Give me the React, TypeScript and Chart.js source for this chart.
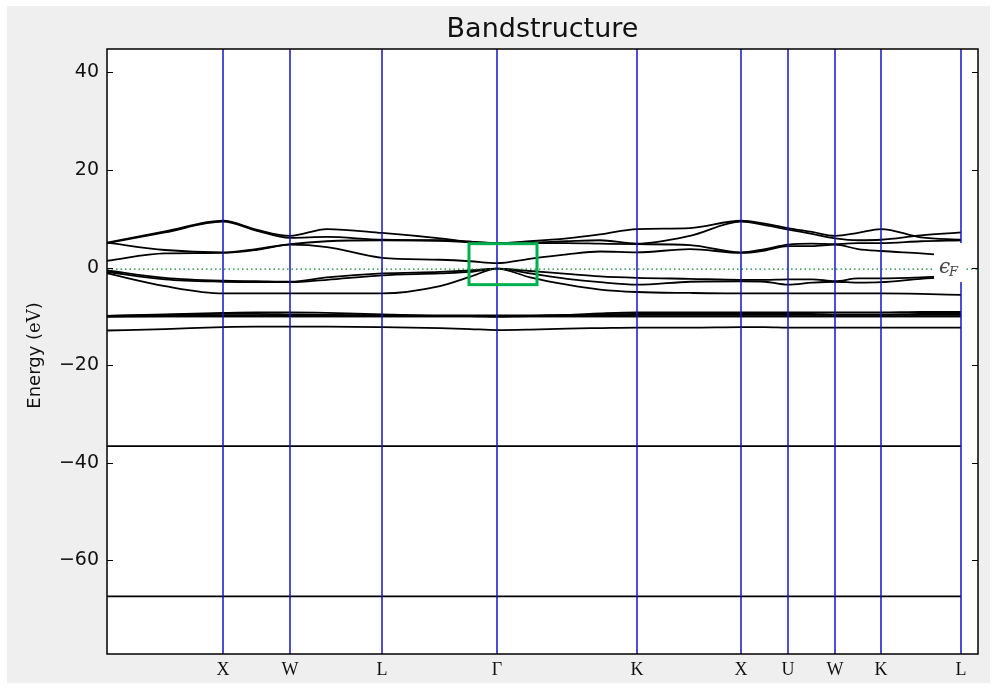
import React, { useEffect, useRef } from "react";
import { Chart, registerables } from "chart.js";

Chart.register(...registerables);

// k-path sample positions (path distance, arbitrary units)
const K_POS = [0, 0.58, 1.16, 1.49, 1.83, 2.2, 2.75, 3.33, 3.63, 3.9, 4.23, 4.6, 4.93, 5.3, 5.83, 6.34, 6.58, 6.81, 7.05, 7.28, 7.51, 7.74, 8.14, 8.54];
const X_MAX = 8.71;
const Y_MIN = -79.2;
const Y_MAX = 44.8;
const E_FERMI = -0.3;

// high-symmetry points
const TICK_POS = [1.16, 1.83, 2.75, 3.9, 5.3, 6.34, 6.81, 7.28, 7.74, 8.54];
const TICK_LABELS = ["X", "W", "L", "\u0393", "K", "X", "U", "W", "K", "L"];
const Y_TICKS = [-60, -40, -20, 0, 20, 40];

// conduction bands (eV)
const C4 = [5.1, 7.4, 9.6, 7.8, 6.5, 7.9, 7.1, 6.0, 5.3, 5.0, 5.4, 6.0, 6.8, 7.9, 8.1, 9.6, 9.0, 8.1, 7.3, 6.5, 7.1, 7.9, 6.2, 5.7];
const C3 = [5.0, 7.2, 9.4, 7.6, 6.1, 6.3, 5.7, 5.6, 5.3, 5.0, 5.1, 5.4, 5.6, 4.9, 6.5, 9.4, 8.7, 7.8, 6.9, 6.0, 5.6, 5.7, 6.6, 7.2];
const C2 = [5.1, 3.6, 3.1, 3.8, 4.8, 5.4, 5.6, 5.5, 5.2, 5.0, 5.0, 5.0, 4.9, 4.8, 4.6, 3.1, 3.8, 4.7, 4.9, 4.8, 5.0, 5.0, 5.4, 5.6];
const C1 = [1.4, 2.9, 3.0, 3.6, 4.7, 4.2, 2.0, 1.6, 1.3, 0.9, 1.8, 2.7, 3.3, 3.1, 3.8, 3.0, 3.5, 4.4, 4.4, 4.7, 3.8, 3.4, 2.9, 2.3];
// valence bands (eV)
const V3 = [-0.6, -2.1, -2.7, -2.8, -2.9, -2.0, -1.2, -0.9, -0.6, -0.2, -0.7, -1.3, -1.8, -2.1, -2.3, -2.5, -2.5, -2.4, -2.4, -2.8, -2.2, -2.2, -2.0, -1.6];
const V2 = [-0.9, -2.4, -2.9, -3.0, -3.0, -2.5, -1.6, -1.2, -0.9, -0.2, -1.2, -2.3, -3.0, -3.5, -2.9, -2.8, -2.9, -3.5, -3.1, -2.9, -3.1, -3.0, -2.3, -1.8];
const V1 = [-1.2, -3.8, -5.3, -5.3, -5.3, -5.3, -5.3, -3.8, -1.9, -0.2, -2.0, -3.5, -4.5, -5.0, -5.2, -5.3, -5.3, -5.3, -5.3, -5.3, -5.3, -5.3, -5.4, -5.6];
// d bands (eV)
const D1 = [-10.0, -10.0, -10.0, -10.0, -10.0, -10.0, -10.0, -10.0, -10.0, -10.0, -10.0, -10.0, -10.0, -10.0, -10.0, -10.0, -10.0, -10.0, -10.0, -10.0, -10.0, -10.0, -10.0, -10.0];
const D2 = [-9.9, -9.9, -9.8, -9.8, -9.8, -9.8, -9.9, -9.9, -9.9, -9.9, -9.9, -9.8, -9.8, -9.7, -9.7, -9.7, -9.7, -9.7, -9.7, -9.7, -9.7, -9.7, -9.7, -9.7];
const D3 = [-9.9, -9.6, -9.3, -9.2, -9.2, -9.3, -9.6, -9.8, -9.8, -9.8, -9.8, -9.7, -9.4, -9.2, -9.2, -9.2, -9.2, -9.2, -9.2, -9.2, -9.2, -9.2, -9.1, -9.1];
const D4 = [-10.1, -10.0, -10.0, -10.0, -10.0, -10.0, -10.0, -10.0, -10.0, -10.1, -10.0, -10.0, -10.0, -10.0, -10.0, -10.0, -10.0, -10.0, -10.0, -10.0, -10.0, -10.0, -10.0, -10.0];
const D5 = [-9.9, -9.7, -9.5, -9.5, -9.6, -9.7, -9.8, -9.9, -9.9, -9.9, -9.9, -9.8, -9.6, -9.5, -9.5, -9.5, -9.5, -9.5, -9.5, -9.6, -9.6, -9.6, -9.5, -9.5];
// s band (eV)
const S1 = [-12.9, -12.6, -12.2, -12.1, -12.1, -12.1, -12.2, -12.4, -12.6, -12.8, -12.7, -12.5, -12.4, -12.3, -12.3, -12.2, -12.2, -12.3, -12.3, -12.3, -12.3, -12.3, -12.3, -12.3];
// deep core levels (eV) at path start and end
const CORE_K = [0, 8.54];
const CORE1 = [-36.6, -36.6];
const CORE2 = [-67.4, -67.4];

// highlighted box (annotation) in data coordinates
const BOX_X = [3.62, 4.3];
const BOX_Y = [-3.5, 4.9];

const TITLE = "Bandstructure";

const BANDS = [C4, C3, C2, C1, V3, V2, V1, D1, D2, D3, D4, D5, S1];

const decorPlugin = {
  id: "decor",
  beforeDraw(chart: any) {
    const { ctx, chartArea: a } = chart;
    ctx.save();
    ctx.fillStyle = "#ffffff";
    ctx.fillRect(a.left, a.top, a.right - a.left, a.bottom - a.top);
    ctx.restore();
  },
  afterDatasetsDraw(chart: any) {
    const { ctx, chartArea: a, scales } = chart;
    const xs = scales.x;
    const ys = scales.y;
    ctx.save();
    // E_F label with white box
    const xL = xs.getPixelForValue(8.54);
    const yF = ys.getPixelForValue(E_FERMI);
    ctx.fillStyle = "#ffffff";
    ctx.fillRect(xL - 27, yF - 26, 32, 39);
    ctx.fillStyle = "#444444";
    ctx.textBaseline = "alphabetic";
    ctx.textAlign = "left";
    ctx.font = "italic 20px 'DejaVu Serif'";
    ctx.fillText("\u03f5", xL - 22, yF + 4);
    ctx.font = "italic 13px 'DejaVu Serif'";
    ctx.fillText("F", xL - 12, yF + 7);

    // green highlight box
    const bx0 = xs.getPixelForValue(BOX_X[0]);
    const bx1 = xs.getPixelForValue(BOX_X[1]);
    const by0 = ys.getPixelForValue(BOX_Y[1]);
    const by1 = ys.getPixelForValue(BOX_Y[0]);
    ctx.strokeStyle = "#00b050";
    ctx.lineWidth = 3;
    ctx.strokeRect(bx0, by0, bx1 - bx0, by1 - by0);

    // frame
    ctx.strokeStyle = "#000000";
    ctx.lineWidth = 1.5;
    ctx.strokeRect(a.left, a.top, a.right - a.left, a.bottom - a.top);
    // inward y ticks
    ctx.lineWidth = 1;
    Y_TICKS.forEach((t) => {
      const py = Math.round(ys.getPixelForValue(t)) + 0.5;
      ctx.beginPath();
      ctx.moveTo(a.left, py);
      ctx.lineTo(a.left + 6, py);
      ctx.moveTo(a.right, py);
      ctx.lineTo(a.right - 6, py);
      ctx.stroke();
    });
    ctx.restore();
  },
  afterDraw(chart: any) {
    const { ctx, chartArea: a } = chart;
    ctx.save();
    // title centred over the plot area
    ctx.fillStyle = "#111111";
    ctx.font = "27px 'DejaVu Sans'";
    ctx.textAlign = "center";
    ctx.textBaseline = "middle";
    ctx.fillText(TITLE, (a.left + a.right) / 2, 24);

    // y-axis label with mixed fonts
    const cy = (a.top + a.bottom) / 2 + 4;
    ctx.translate(28, cy);
    ctx.rotate(-Math.PI / 2);
    ctx.textBaseline = "middle";
    const parts = [
      { t: "Energy (", f: "18px 'DejaVu Sans'" },
      { t: "eV", f: "18px 'DejaVu Serif'" },
      { t: ")", f: "18px 'DejaVu Sans'" },
    ];
    let total = 0;
    parts.forEach((p) => {
      ctx.font = p.f;
      total += ctx.measureText(p.t).width;
    });
    let x = -total / 2;
    ctx.textAlign = "left";
    parts.forEach((p) => {
      ctx.font = p.f;
      ctx.fillText(p.t, x, 0);
      x += ctx.measureText(p.t).width;
    });
    ctx.restore();
  },
};

function BandChart() {
  const ref = useRef<HTMLCanvasElement | null>(null);
  useEffect(() => {
    if (!ref.current) return;
    const datasets: any[] = [];
    TICK_POS.forEach((p) => {
      datasets.push({
        data: [
          { x: p, y: Y_MIN },
          { x: p, y: Y_MAX },
        ],
        borderColor: "rgb(20,20,195)",
        borderWidth: 1.5,
        order: 0,
      });
    });
    datasets.push({
      data: [
        { x: 0, y: E_FERMI },
        { x: X_MAX, y: E_FERMI },
      ],
      borderColor: "#008a30",
      borderWidth: 1.2,
      borderDash: [1.5, 3],
      order: 1,
    });
    BANDS.forEach((b) => {
      datasets.push({
        data: K_POS.map((k, i) => ({ x: k, y: b[i] })),
        borderColor: "#000000",
        borderWidth: 1.8,
        cubicInterpolationMode: "monotone",
        order: 2,
      });
    });
    [CORE1, CORE2].forEach((b) => {
      datasets.push({
        data: CORE_K.map((k, i) => ({ x: k, y: b[i] })),
        borderColor: "#000000",
        borderWidth: 1.8,
        order: 2,
      });
    });

    const chart = new Chart(ref.current, {
      type: "scatter",
      data: { datasets },
      options: {
        animation: false,
        responsive: false,
        devicePixelRatio: 1,
        showLine: true,
        elements: { point: { radius: 0, hoverRadius: 0 } },
        layout: { padding: { left: 0, right: 12, top: 43, bottom: 0 } },
        plugins: {
          legend: { display: false },
          tooltip: { enabled: false },
          title: { display: false },
        },
        scales: {
          x: {
            type: "linear",
            min: 0,
            max: X_MAX,
            grid: { display: false, drawTicks: false },
            border: { display: false },
            afterBuildTicks: (axis: any) => {
              axis.ticks = TICK_POS.map((v) => ({ value: v }));
            },
            afterFit: (axis: any) => {
              axis.height = 29;
            },
            ticks: {
              autoSkip: false,
              maxRotation: 0,
              padding: 5,
              color: "#111111",
              font: { family: "'Liberation Serif'", size: 18 },
              callback: (_v: any, i: number) => TICK_LABELS[i],
            },
          },
          y: {
            type: "linear",
            min: Y_MIN,
            max: Y_MAX,
            grid: { display: false, drawTicks: false },
            border: { display: false },
            afterBuildTicks: (axis: any) => {
              axis.ticks = Y_TICKS.map((v) => ({ value: v }));
            },
            afterFit: (axis: any) => {
              axis.width = 100;
            },
            ticks: {
              padding: 8,
              color: "#111111",
              font: { family: "'DejaVu Sans'", size: 19 },
              callback: (v: any) => (v < 0 ? "\u2212" + Math.abs(v) : String(v)),
            },
          },
        },
      },
      plugins: [decorPlugin],
    } as any);
    return () => chart.destroy();
  }, []);
  return <canvas ref={ref} width={983} height={677} style={{ display: "block", width: 983, height: 677 }} />;
}

export default function App() {
  return (
    <div
      style={{
        position: "absolute",
        left: 7,
        top: 6,
        width: 983,
        height: 677,
        background: "#efefef",
      }}
    >
      <BandChart />
    </div>
  );
}
